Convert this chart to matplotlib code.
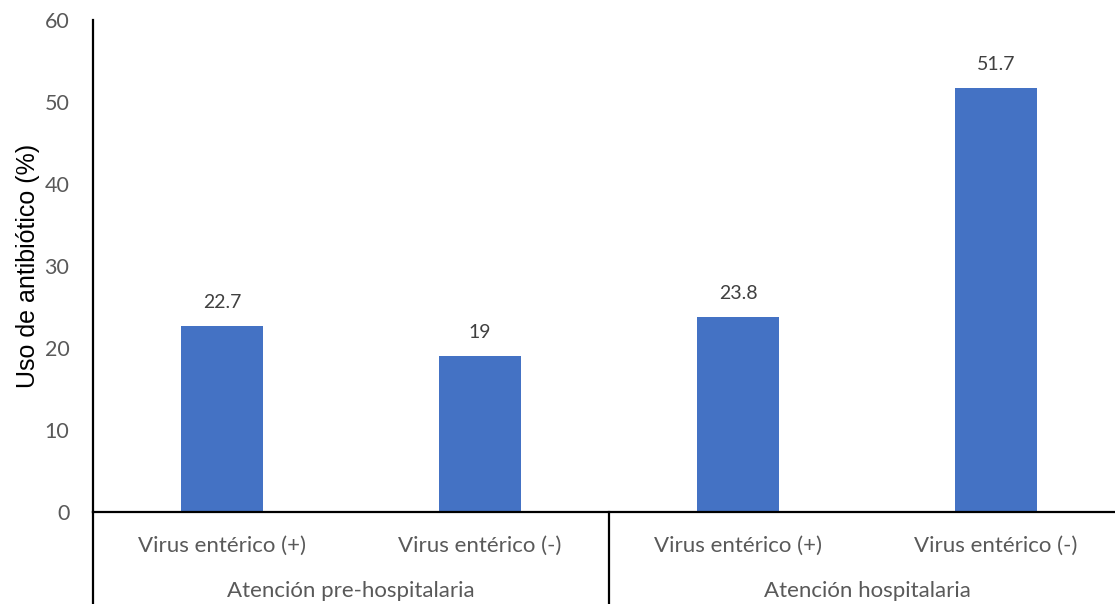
import matplotlib.pyplot as plt
import matplotlib.transforms as mtransforms

categories = ["Virus entérico (+)", "Virus entérico (-)",
              "Virus entérico (+)", "Virus entérico (-)"]
groups = ["Atención pre-hospitalaria", "Atención hospitalaria"]
values = [22.7, 19, 23.8, 51.7]
value_labels = ["22.7", "19", "23.8", "51.7"]

bar_color = "#4472C4"
text_gray = "#595959"
label_gray = "#404040"
tick_font = "Lato"

fig = plt.figure(figsize=(11.15, 6.04), dpi=100)
# axis runs slightly past the right edge of the canvas
ax = fig.add_axes([93 / 1115, 1 - 512 / 604, (1125 - 93) / 1115, (512 - 20) / 604])

x = list(range(len(values)))
ax.bar(x, values, width=0.314, color=bar_color, zorder=2)

for xi, v, lab in zip(x, values, value_labels):
    ax.annotate(lab, (xi, v), xytext=(0, 11), textcoords="offset points",
                ha="center", va="bottom", fontsize=14, color=label_gray,
                family=tick_font)

ax.set_xlim(-0.5, len(values) - 0.5)
ax.set_ylim(0, 60)
ax.set_yticks(range(0, 61, 10))
ax.tick_params(axis="y", length=0, pad=17, labelsize=15.5, labelcolor=text_gray)
for t in ax.get_yticklabels():
    t.set_family(tick_font)
ax.set_xticks([])

for side in ["top", "right"]:
    ax.spines[side].set_visible(False)
ax.spines["left"].set_linewidth(1.6)
ax.spines["bottom"].set_linewidth(1.6)

ax.set_ylabel("Uso de antibiótico (%)", fontsize=18, family="Liberation Sans",
              color="black")
ax.yaxis.set_label_coords(-0.051, 0.5)

# multi-level category axis
trans = mtransforms.blended_transform_factory(ax.transData, ax.transAxes)
for xi, cat in zip(x, categories):
    ax.text(xi, -0.068, cat, transform=trans, ha="center", va="center",
            fontsize=16, color=text_gray, family=tick_font)
for gi, g in enumerate(groups):
    ax.text(2 * gi + 0.5, -0.16, g, transform=trans, ha="center", va="center",
            fontsize=16, color=text_gray, family=tick_font)
for sep in [-0.5, 1.5, 3.5]:
    ax.plot([sep, sep], [0, -0.2], transform=trans, color="black",
            linewidth=1.6, clip_on=False)

fig.savefig("out.png", dpi=100)
